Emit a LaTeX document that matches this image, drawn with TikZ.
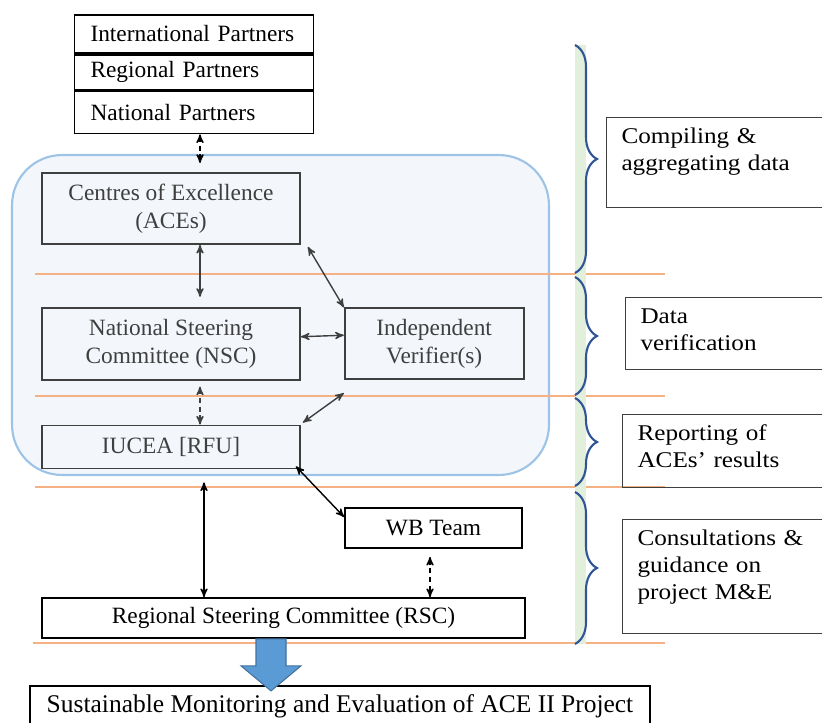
\documentclass[tikz,border=0pt]{standalone}
\usepackage{fontspec}
\setmainfont{Liberation Serif}
\newfontfamily\sidefont[FakeStretch=1.12,Ligatures=TeX]{Liberation Serif}
\usepackage{tikz}
\usetikzlibrary{positioning}
\usetikzlibrary{arrows}
\usetikzlibrary{decorations.pathreplacing}
\definecolor{zonefill}{HTML}{F3F7FC}
\definecolor{zoneline}{HTML}{9DC3E6}
\definecolor{inkgray}{HTML}{3F3F3F}
\definecolor{rulecol}{HTML}{F4B183}
\definecolor{bracecol}{HTML}{2F5597}
\definecolor{stripcol}{HTML}{E2EFDA}
\definecolor{blockfill}{HTML}{5B9BD5}
\definecolor{blockline}{HTML}{41719C}

\begin{document}
\begin{tikzpicture}[x=0.02cm,y=-0.02cm]
	\tikzstyle{BoxStyle}   = [draw, line width=1pt, inner sep=0pt, font=\fontsize{13.3}{16}\selectfont]
	\tikzstyle{UnitStyle}  = [BoxStyle, draw=inkgray, text=inkgray, align=center]
	\tikzstyle{SideStyle}  = [draw=inkgray, line width=0.6pt, anchor=north west, align=left, text width=3.9cm, inner xsep=0.3cm, inner ysep=4pt, text height=10.7pt, font=\sidefont\fontsize{12.8}{15.5}\selectfont]
	\tikzstyle{EdgeStyle}  = [<->, >=stealth', line width=0.8pt]
	\tikzstyle{RuleStyle}  = [rulecol, line width=0.6pt]
	\tikzstyle{BraceStyle} = [bracecol, line width=1.2pt, decorate, decoration={brace, amplitude=0.44cm}]
	\useasboundingbox (0,0) rectangle (822,723);
	\clip (0,0) rectangle (822,723);
	% shaded zone of the national level
	\node[draw=zoneline, fill=zonefill, line width=1.2pt, rounded corners=1cm, minimum width=10.74cm, minimum height=6.4cm] (zone) at (280.5,315) {};
	\draw[RuleStyle] (35,274) -- (665,274);
	\draw[RuleStyle] (35,396) -- (665,396);
	\draw[RuleStyle] (35,487) -- (665,487);
	\draw[RuleStyle] (33,643) -- (665,643);
	% partners
	\node[BoxStyle, align=left, text width=4.14cm, inner xsep=0.32cm, minimum height=0.76cm] (intl) at (194,34) {International Partners};
	\node[BoxStyle, align=left, text width=4.14cm, inner xsep=0.32cm, minimum height=0.70cm, below=0pt of intl] (regl) {Regional Partners};
	\node[BoxStyle, align=left, text width=4.14cm, inner xsep=0.32cm, minimum height=0.84cm, below=0pt of regl] (natl) {National Partners};
	% units
	\node[UnitStyle, minimum width=5.16cm, minimum height=1.42cm] (ace) at (171,208.5) {Centres of Excellence\\(ACEs)};
	\node[UnitStyle, minimum width=5.16cm, minimum height=1.44cm, below=1.24cm of ace] (nsc) {National Steering\\Committee (NSC)};
	\node[UnitStyle, minimum width=3.58cm, minimum height=1.42cm, right=0.86cm of nsc] (iv) {Independent\\Verifier(s)};
	\node[UnitStyle, minimum width=5.16cm, minimum height=0.86cm, below=0.88cm of nsc] (iucea) {IUCEA [RFU]};
	\node[BoxStyle, minimum width=3.54cm, minimum height=0.80cm] (wb) at (433.5,528) {WB Team};
	\node[BoxStyle, minimum width=9.66cm, minimum height=0.80cm] (rsc) at (283.5,618) {Regional Steering Committee (RSC)};
	\node[BoxStyle, minimum width=12.4cm, minimum height=0.80cm, font=\fontsize{14.5}{17}\selectfont] (sme) at (340,706) {Sustainable Monitoring and Evaluation of ACE II Project};
	% stages
	\fill[stripcol] (575,45) rectangle (586,644);
	\draw[BraceStyle] (575,45) -- (575,273);
	\draw[BraceStyle] (575,277) -- (575,395);
	\draw[BraceStyle] (575,398) -- (575,486);
	\draw[BraceStyle] (575,492) -- (575,644);
	\node[SideStyle, text depth=32.3pt] (comp) at (606,117) {Compiling \&\\aggregating data};
	\node[SideStyle, text depth=22.1pt] (dver) at (625,297) {Data\\verification};
	\node[SideStyle, text depth=22.7pt] (rep) at (622,414) {Reporting of\\ACEs’ results};
	\node[SideStyle, text depth=45.9pt] (cons) at (622,519) {Consultations \&\\guidance on\\project M\&E};
	% links
	\coordinate (ztop) at (200,163);
	\draw[EdgeStyle, densely dashed] (natl.south -| ztop) -- (ztop);
	\draw[EdgeStyle, inkgray, shorten >=0.2cm] ([xshift=0.58cm]ace.south) -- ([xshift=0.58cm]nsc.north);
	\draw[EdgeStyle, inkgray] ([shift={(0.14cm,-0.04cm)}]ace.south east) -- (iv.north west);
	\draw[EdgeStyle, inkgray] ([yshift=0.14cm]nsc.east) -- ([yshift=0.17cm]iv.west);
	\draw[EdgeStyle, inkgray, densely dashed, shorten <=0.12cm] ([xshift=0.58cm]nsc.south) -- ([xshift=0.58cm]iucea.north);
	\draw[EdgeStyle, inkgray] ([yshift=-0.26cm]iv.south west) -- ([shift={(0.04cm,0.04cm)}]iucea.north east);
	\draw[EdgeStyle, shorten <=0.26cm] ([xshift=0.66cm]iucea.south) -- ([xshift=0.66cm]iucea.south |- rsc.north);
	\draw[EdgeStyle] ([shift={(-0.1cm,0.06cm)}]iucea.south east) -- ([yshift=0.22cm]wb.west);
	\draw[EdgeStyle, densely dashed, shorten <=0.16cm] ([xshift=-0.07cm]wb.south) -- ([xshift=-0.07cm]wb.south |- rsc.north);
	\coordinate (blk) at ([xshift=-0.25cm]rsc.south);
	\filldraw[fill=blockfill, draw=blockline, line width=0.6pt] (blk) ++(-15,0) -- ++(30,0) -- ++(0,27) -- ++(15,0) -- ++(-30,25) -- ++(-30,-25) -- ++(15,0) -- cycle;
\end{tikzpicture}
\end{document}
